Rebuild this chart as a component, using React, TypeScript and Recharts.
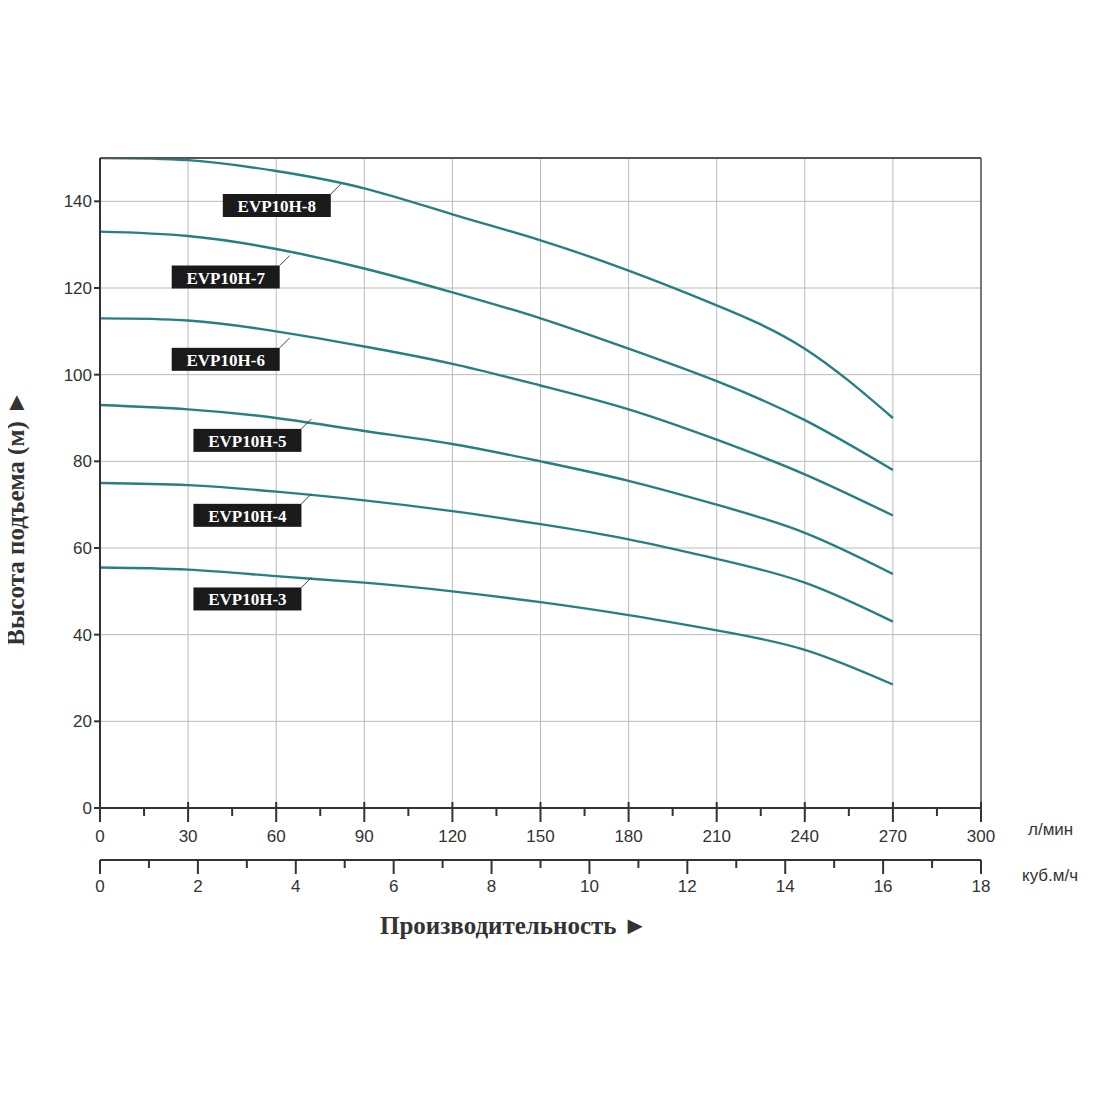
import React from 'react';
import { LineChart, Line, XAxis, YAxis, CartesianGrid, ReferenceDot } from 'recharts';

const flow = [0, 30, 60, 90, 120, 150, 180, 210, 240, 270];
const h8 = [150, 149.5, 147, 143, 137, 131, 124, 116, 106, 90];
const h7 = [133, 132, 129, 124.5, 119, 113, 106, 98.5, 89.5, 78];
const h6 = [113, 112.5, 110, 106.5, 102.5, 97.5, 92, 85, 77, 67.5];
const h5 = [93, 92, 90, 87, 84, 80, 75.5, 70, 63.5, 54];
const h4 = [75, 74.5, 73, 71, 68.5, 65.5, 62, 57.5, 52, 43];
const h3 = [55.5, 55, 53.5, 52, 50, 47.5, 44.5, 41, 36.5, 28.5];

const seriesKeys = ['h8', 'h7', 'h6', 'h5', 'h4', 'h3'];
const seriesNames = ['EVP10H-8', 'EVP10H-7', 'EVP10H-6', 'EVP10H-5', 'EVP10H-4', 'EVP10H-3'];
const labelFlow = [82, 64.6, 64.6, 72, 72, 72];
const labelHead = [144, 127.5, 108.5, 89.8, 72.5, 53.2];

const flowTicks = [0, 15, 30, 45, 60, 75, 90, 105, 120, 135, 150, 165, 180, 195, 210, 225, 240, 255, 270, 285, 300];
const m3Ticks = [0, 1, 2, 3, 4, 5, 6, 7, 8, 9, 10, 11, 12, 13, 14, 15, 16, 17, 18];
const headTicks = [0, 20, 40, 60, 80, 100, 120, 140];

const data = flow.map((q, i) => ({ q, m3: q * 0.06, h8: h8[i], h7: h7[i], h6: h6[i], h5: h5[i], h4: h4[i], h3: h3[i] }));

const CURVE = '#267f82';
const FONT = 'Arial, "Liberation Sans", sans-serif';
const SERIF = '"Liberation Serif", "Times New Roman", serif';

const FlowTick = (props: any) => {
  const { x, y, payload } = props;
  const major = payload.value % 30 === 0;
  const top = y - 8;
  return (
    <g>
      <line x1={x} x2={x} y1={major ? top - 6 : top} y2={major ? top + 14 : top + 8} stroke="#333" strokeWidth={2} />
      {major && (
        <text x={x} y={top + 34} textAnchor="middle" fontSize={17} fill="#333" fontFamily={FONT}>{payload.value}</text>
      )}
    </g>
  );
};

const M3Tick = (props: any) => {
  const { x, y, payload } = props;
  const major = payload.value % 2 === 0;
  const top = y - 8;
  return (
    <g>
      <line x1={x} x2={x} y1={top} y2={major ? top + 14 : top + 8} stroke="#333" strokeWidth={2} />
      {major && (
        <text x={x} y={top + 32} textAnchor="middle" fontSize={17} fill="#333" fontFamily={FONT}>{payload.value}</text>
      )}
    </g>
  );
};

const makeLabel = (name: string) => (p: any) => {
  const { cx, cy } = p;
  const bx = cx - 10;
  const by = cy + 10;
  return (
    <g>
      <line x1={cx} y1={cy} x2={bx} y2={by} stroke="#444" strokeWidth={1} />
      <rect x={bx - 108} y={by} width={108} height={23} fill="#1a1a1a" />
      <text x={bx - 54} y={by + 18} textAnchor="middle" fill="#fff" fontSize={17} fontWeight="bold" fontFamily={SERIF}>{name}</text>
    </g>
  );
};

export default function App() {
  return (
    <div style={{ width: 1084, height: 1000, position: 'relative', background: '#fff' }}>
      <LineChart width={1084} height={1000} data={data} margin={{ top: 149, right: 110, left: 32, bottom: 100 }}>
        <CartesianGrid stroke="#bbb" strokeWidth={1} horizontalValues={headTicks.concat([150])} verticalValues={flowTicks.filter((v) => v % 30 === 0)} />
        <XAxis dataKey="q" type="number" domain={[0, 300]} ticks={flowTicks} interval={0} tick={<FlowTick />} tickLine={false} axisLine={{ stroke: '#333', strokeWidth: 2 }} height={52} allowDataOverflow />
        <XAxis xAxisId="m3" dataKey="m3" type="number" domain={[0, 18]} ticks={m3Ticks} interval={0} tick={<M3Tick />} tickLine={false} axisLine={{ stroke: '#333', strokeWidth: 2 }} height={48} allowDataOverflow />
        <XAxis xAxisId="top" orientation="top" type="number" domain={[0, 300]} tick={false} tickLine={false} axisLine={{ stroke: '#555', strokeWidth: 2 }} height={1} />
        <YAxis type="number" domain={[0, 150]} ticks={headTicks} interval={0} tick={{ fontSize: 17, fill: '#333', fontFamily: FONT }} tickLine={{ stroke: '#333', strokeWidth: 2 }} tickSize={6} axisLine={{ stroke: '#333', strokeWidth: 2 }} width={60} allowDataOverflow />
        <YAxis yAxisId="right" orientation="right" type="number" domain={[0, 150]} tick={false} tickLine={false} axisLine={{ stroke: '#555', strokeWidth: 1.5 }} width={1} />
        {seriesKeys.map((k) => (
          <Line key={k} dataKey={k} type="natural" stroke={CURVE} strokeWidth={2.4} dot={false} isAnimationActive={false} />
        ))}
        {seriesNames.map((n, i) => (
          <ReferenceDot key={n} x={labelFlow[i]} y={labelHead[i]} r={0} shape={makeLabel(n)} />
        ))}
      </LineChart>
      <div style={{ position: 'absolute', left: 1020, top: 812, fontSize: 17, color: '#333', fontFamily: FONT }}>л/мин</div>
      <div style={{ position: 'absolute', left: 1014, top: 858, fontSize: 17, color: '#333', fontFamily: FONT, whiteSpace: 'nowrap' }}>куб.м/ч</div>
      <div style={{ position: 'absolute', left: 372, top: 904, fontSize: 25, fontWeight: 'bold', color: '#333', fontFamily: SERIF }}>Производительность ►</div>
      <div style={{ position: 'absolute', left: 8, top: 510, width: 0, height: 0 }}>
        <div style={{ position: 'absolute', transform: 'translate(-50%, -50%) rotate(-90deg)', whiteSpace: 'nowrap', fontSize: 25, fontWeight: 'bold', color: '#333', fontFamily: SERIF }}>Высота подъема (м) ►</div>
      </div>
    </div>
  );
}
